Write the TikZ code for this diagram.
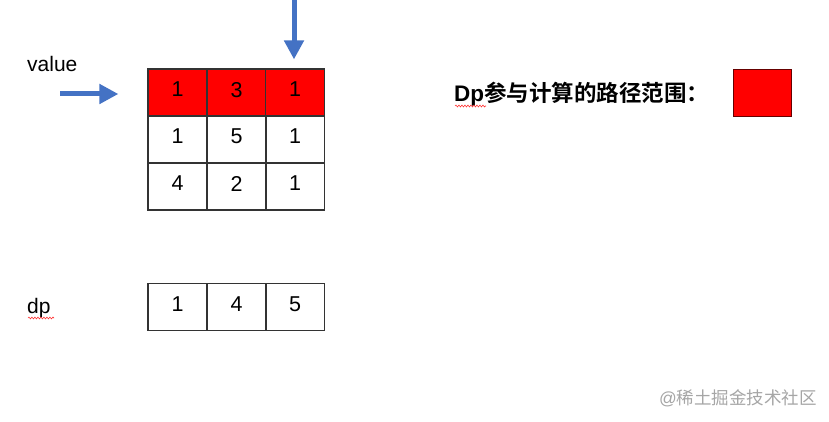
\documentclass[tikz,border=0pt]{standalone}
\usepackage{fontspec}
\setmainfont{Liberation Sans}
\newfontfamily\cjk{Noto Sans CJK SC}[BoldFont={Noto Sans CJK SC Bold}]
\usetikzlibrary{arrows.meta,decorations.pathmorphing}
\definecolor{arrowblue}{HTML}{4472C4}
\definecolor{cellred}{HTML}{FF0000}
\tikzset{
  cell/.style={draw=black!80, line width=1.2pt, minimum width=59pt, minimum height=47pt,
    inner sep=0pt, text depth=6pt, font=\fontsize{21.5}{21.5}\selectfont},
  redcell/.style={cell, fill=cellred},
  bluearrow/.style={draw=arrowblue, line width=5pt, -{Triangle[length=19pt,width=19pt]}},
  plain/.style={inner sep=0pt, font=\fontsize{21}{21}\selectfont},
  squiggle/.style={draw=red!80, line width=0.6pt, decorate,
    decoration={snake, amplitude=0.9pt, segment length=3pt}}
}
\begin{document}
\begin{tikzpicture}[x=1pt,y=-1pt]
\useasboundingbox[fill=white] (0,0) rectangle (829,422);
% value grid
\node[redcell] (v00) at (177.5,92.5) {1};
\node[redcell] (v01) at (236.5,92.5) {3};
\node[redcell] (v02) at (295,92.5) {1};
\node[cell] (v10) at (177.5,139.5) {1};
\node[cell] (v11) at (236.5,139.5) {5};
\node[cell] (v12) at (295,139.5) {1};
\node[cell] (v20) at (177.5,186.5) {4};
\node[cell] (v21) at (236.5,186.5) {2};
\node[cell] (v22) at (295,186.5) {1};
% dp row
\node[cell] (d0) at (177.5,307) {1};
\node[cell] (d1) at (236.5,307) {4};
\node[cell] (d2) at (295,307) {5};
% labels
\node[plain, anchor=west] (lvalue) at (27,64) {value};
\node[plain, anchor=west] (ldp) at (27,308) {dp};
\draw[squiggle] (28,318) -- (54,318);
% arrows
\coordinate (topstart) at (294,0);
\coordinate (leftstart) at (60,94);
\draw[bluearrow, shorten >=9pt] (topstart) -- (v02.north -| topstart);
\draw[bluearrow, shorten >=29pt] (leftstart) -- (leftstart -| v00.west);
% legend
\node[inner sep=0pt, anchor=west, font=\fontsize{22.5}{22.5}\selectfont] (legend) at (454,94) {\bfseries Dp{\cjk\bfseries 参与计算的路径范围：}};
\draw[squiggle] (455,106) -- (486,106);
\node[draw=black!60!red, line width=0.8pt, fill=cellred, minimum width=58pt, minimum height=47pt, inner sep=0pt] (legbox) at (762,92.5) {};
% watermark
\node[inner sep=0pt, anchor=west, text=black!35, font=\fontsize{17.5}{17.5}\selectfont] (wm) at (659,398) {@{\cjk 稀土掘金技术社区}};
\end{tikzpicture}
\end{document}
